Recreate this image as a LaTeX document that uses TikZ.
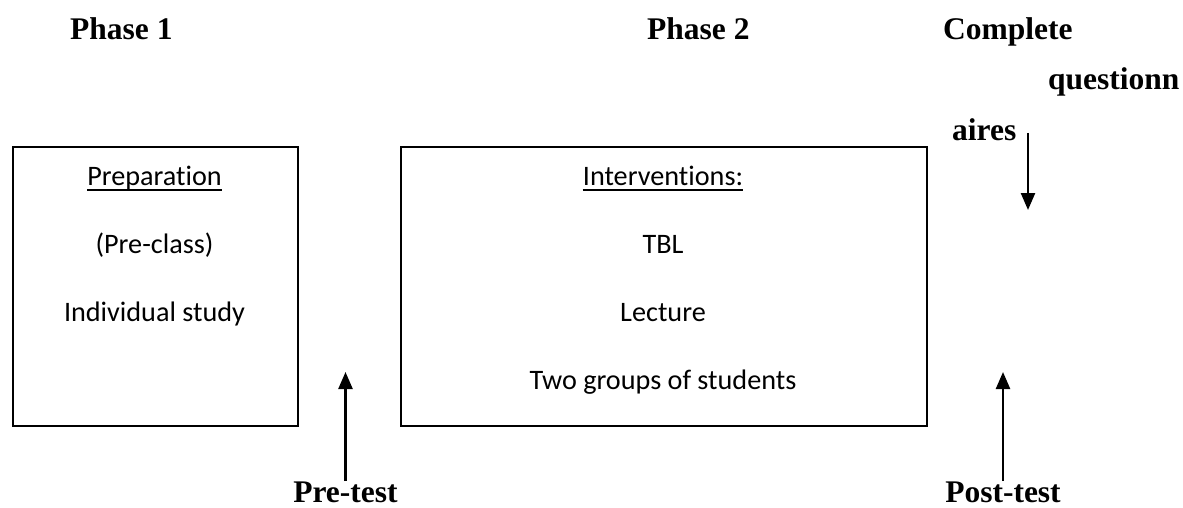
\documentclass[tikz,border=0pt]{standalone}
\usepackage{fontspec}
\setmainfont{Liberation Serif}
\newfontfamily\calfont[Ligatures=NoCommon]{Carlito}
\usetikzlibrary{arrows.meta}
\begin{document}
\begin{tikzpicture}[x=1pt,y=-1pt,
  lab/.style={inner sep=0pt,font=\fontsize{31.5}{36}\selectfont\bfseries},
  btxt/.style={inner sep=0pt,anchor=base,font=\fontsize{28.2}{34}\calfont},
  boxst/.style={draw,line width=2pt,inner sep=0pt,anchor=north west},
  arr/.style={line width=2.4pt,-{Triangle[width=14pt,length=17pt]}},
  uline/.style={line width=1.8pt}]
\useasboundingbox (0,0) rectangle (1183,508);
% headings
\node[lab,anchor=base west] (ph1) at (70,40) {Phase 1};
\node[lab,anchor=base west] (ph2) at (647,40) {Phase 2};
\node[lab,anchor=base west] (compl) at (943,40) {Complete};
\node[lab,anchor=base west] (quest) at (1048,90) {questionn};
\node[lab,anchor=base west] (aires) at (952,140) {aires};
\node[lab,anchor=base] (pre) at (345.5,502) {Pre-test};
\node[lab,anchor=base] (post) at (1003,502) {Post-test};
% boxes
\node[boxst,minimum width=285pt,minimum height=279pt] (box1) at (12,146) {};
\node[boxst,minimum width=526pt,minimum height=279pt] (box2) at (400,146) {};
% box 1 text
\node[btxt] (prep) at (154.5,185) {Preparation};
\draw[uline] ([yshift=-5pt]prep.base west) -- ([yshift=-5pt]prep.base east);
\node[btxt] (precl) at (154.5,253) {(Pre-class)};
\node[btxt] (indiv) at (154.5,321) {Individual study};
% box 2 text
\node[btxt] (interv) at (663,185) {Interventions:};
\draw[uline] ([yshift=-5pt]interv.base west) -- ([yshift=-5pt]interv.base east);
\node[btxt] (tbl) at (663,253) {TBL};
\node[btxt] (lect) at (663,321) {Lecture};
\node[btxt] (two) at (663,389) {Two groups of students};
% arrows
\coordinate (pretip) at (345.5,372);
\coordinate (posttip) at (1003,372);
\coordinate (qtop) at (1028,133);
\coordinate (qtip) at (1028,210);
\draw[arr] (pre.north) -- (pretip);
\draw[arr] (post.north) -- (posttip);
\draw[arr] (qtop) -- (qtip);
\end{tikzpicture}
\end{document}
